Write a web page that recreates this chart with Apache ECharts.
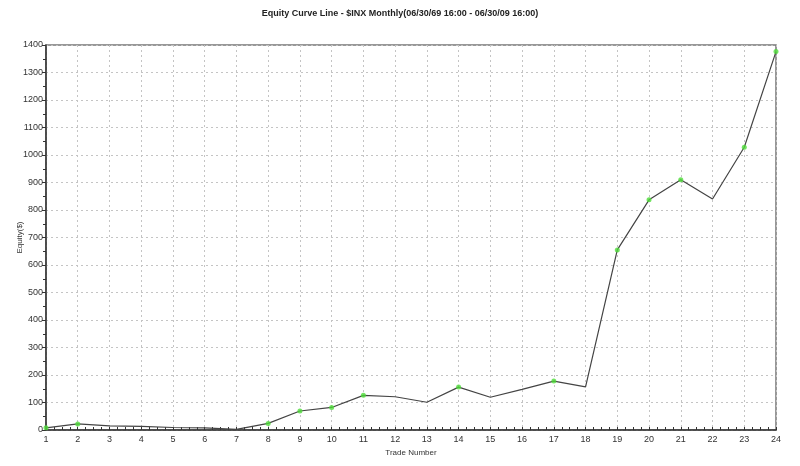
<!DOCTYPE html>
<html><head><meta charset="utf-8">
<script src="https://cdn.jsdelivr.net/npm/echarts@6/dist/echarts.min.js"></script>
<style>html,body{margin:0;padding:0;background:#fff}#c{width:800px;height:466px}</style>
</head><body><div id="c"></div>
<script>
var trades = [1,2,3,4,5,6,7,8,9,10,11,12,13,14,15,16,17,18,19,20,21,22,23,24];
var equity = [8,22,15,13,9,8,2,24,69,82,126,121,101,156,119,148,178,157,655,837,910,840,1028,1376];
var markerTrades = [1,2,8,9,10,11,14,17,19,20,21,23,24];
var yTicks = [0,100,200,300,400,500,600,700,800,900,1000,1100,1200,1300,1400];

var lineData = trades.map(function(t,i){return [t,equity[i]];});
var markData = markerTrades.map(function(t){return [t,equity[trades.indexOf(t)]];});

var chart = echarts.init(document.getElementById('c'), null, {renderer:'canvas'});
chart.setOption({
  animation:false,
  backgroundColor:'#fff',
  title:{text:'Equity Curve Line - $INX Monthly(06/30/69 16:00 - 06/30/09 16:00)',left:'center',top:4,
    textStyle:{fontFamily:'Liberation Sans, Arial',fontSize:9,fontWeight:'bold',color:'#222'}},
  grid:{left:46,right:24,top:45,bottom:36,outerBoundsMode:'none',containLabel:false,show:true,borderColor:'#777',borderWidth:1.5,backgroundColor:'#fff'},
  xAxis:{type:'value',min:trades[0],max:trades[trades.length-1],interval:1,
    name:'Trade Number',nameLocation:'middle',nameGap:19,nameMoveOverlap:false,
    nameTextStyle:{fontFamily:'Liberation Sans, Arial',fontSize:8,color:'#333'},
    axisLine:{show:true,onZero:false,lineStyle:{color:'#333',width:1.5}},
    axisTick:{show:true,inside:true,length:3,lineStyle:{color:'#333'}},
    minorTick:{show:true,splitNumber:4,length:3,lineStyle:{color:'#333'}},
    axisLabel:{fontFamily:'Liberation Sans, Arial',fontSize:9,color:'#333',margin:5,formatter:function(v){return String(v);}},
    splitLine:{show:true,lineStyle:{color:'#c4c4c4',type:[2,3],width:1}}},
  yAxis:{type:'value',min:yTicks[0],max:yTicks[yTicks.length-1],interval:100,
    name:'Equity($)',nameLocation:'middle',nameGap:22,nameRotate:90,nameMoveOverlap:false,
    nameTextStyle:{fontFamily:'Liberation Sans, Arial',fontSize:8,color:'#333'},
    axisLine:{show:true,lineStyle:{color:'#333',width:1.5}},
    axisTick:{show:true,length:4,lineStyle:{color:'#333'}},
    minorTick:{show:true,splitNumber:2,length:3,lineStyle:{color:'#333'}},
    axisLabel:{fontFamily:'Liberation Sans, Arial',fontSize:9,color:'#333',margin:3,formatter:function(v){return String(v);}},
    splitLine:{show:true,lineStyle:{color:'#c4c4c4',type:[2,3],width:1}}},
  series:[
    {type:'line',data:lineData,showSymbol:false,lineStyle:{color:'#444',width:1.2},z:2},
    {type:'scatter',data:markData,symbol:'circle',symbolSize:5,itemStyle:{color:'#4fdc3a'},z:3}
  ]
});
</script></body></html>
